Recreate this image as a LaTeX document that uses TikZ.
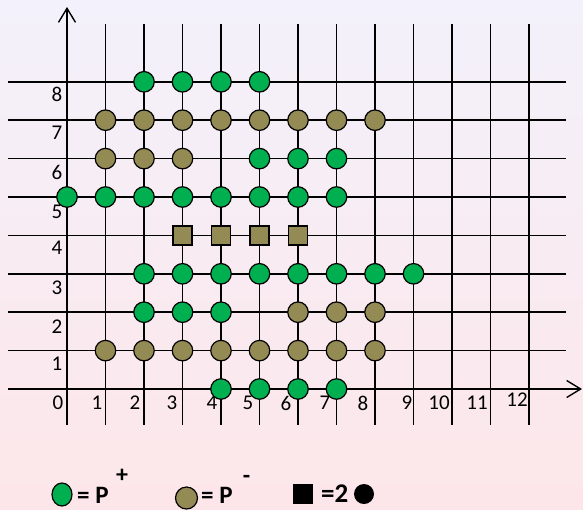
\documentclass[tikz,border=0pt]{standalone}
\usepackage{fontspec}
\setmainfont{Carlito}
\usetikzlibrary{arrows.meta,shapes.geometric}
\definecolor{pplus}{HTML}{00B050}
\definecolor{pminus}{HTML}{948A54}
\definecolor{bgtop}{HTML}{F3F1FB}
\definecolor{bgbot}{HTML}{FDE6E9}
\begin{document}
\begin{tikzpicture}[x=1pt,y=-1pt,
  gridline/.style={line width=1.6pt,black},
  axisarrow/.style={gridline,-{Straight Barb[length=14pt,width=17pt,line width=1.4pt]}},
  pplusdot/.style={circle,draw=black,line width=1.2pt,fill=pplus,minimum size=20.5pt,inner sep=0pt},
  pminusdot/.style={pplusdot,fill=pminus},
  pairbox/.style={rectangle,draw=black,line width=1.2pt,fill=pminus,minimum size=19pt,inner sep=0pt},
  numlabel/.style={font=\fontsize{21}{21}\selectfont,inner sep=0pt},
  legtext/.style={font=\bfseries\fontsize{25}{25}\selectfont,inner sep=0pt,anchor=base west},
  legsup/.style={font=\bfseries\fontsize{24}{24}\selectfont,inner sep=0pt},
]
\shade[top color=bgtop,bottom color=bgbot] (0,0) rectangle (583,509);
\useasboundingbox (0,0) rectangle (583,509);
% grid
\foreach \i in {1,...,12}
  \draw[gridline] ({67+38.5*\i},24) -- ({67+38.5*\i},425);
\foreach \j in {1,...,8}
  \draw[gridline] (8,{389-38.4*\j}) -- (566,{389-38.4*\j});
\coordinate (ybot) at (67,425);
\coordinate (ytop) at (67,7);
\coordinate (xleft) at (8,389);
\coordinate (xright) at (582,389);
\draw[axisarrow] (ybot) -- (ytop);
\draw[axisarrow] (xleft) -- (xright);
% x labels
\foreach \n/\xx in {0/58,1/97,2/135,3/172,4/212,5/248,6/286,7/325,8/363,9/407,10/439,11/477}
  \node[numlabel] (lx\n) at (\xx,403) {\n};
\node[numlabel] (lx12) at (517,400) {12};
% y labels
\foreach \n/\yy in {1/364,2/327,3/288,4/248,5/212,6/172,7/133,8/94}
  \node[numlabel,anchor=east] (ly\n) at (62.5,\yy) {\n};
% positive dots
\foreach \a/\b in {2/8,3/8,4/8,5/8,
                   5/6,6/6,7/6,
                   0/5,1/5,2/5,3/5,4/5,5/5,6/5,7/5,
                   2/3,3/3,4/3,5/3,6/3,7/3,8/3,9/3,
                   2/2,3/2,4/2,
                   4/0,5/0,6/0,7/0}
  \node[pplusdot] (g\a-\b) at ({67+38.5*\a},{389-38.4*\b}) {};
% negative dots
\foreach \a/\b in {1/7,2/7,3/7,4/7,5/7,6/7,7/7,8/7,
                   1/6,2/6,3/6,
                   6/2,7/2,8/2,
                   1/1,2/1,3/1,4/1,5/1,6/1,7/1,8/1}
  \node[pminusdot] (m\a-\b) at ({67+38.5*\a},{389-38.4*\b}) {};
% pair boxes
\foreach \a in {3,4,5,6}
  \node[pairbox] (s\a) at ({67+38.5*\a},{389-38.4*4}) {};
% legend
\node[pplusdot,ellipse,minimum width=20pt,minimum height=23pt] (legplus) at (62,494.5) {};
\node[legtext] (legplustext) at (77,503) {= P};
\node[legsup] (legplussup) at (122,476) {+};
\node[pminusdot,minimum size=22pt] (legminus) at (186.5,498) {};
\node[legtext] (legminustext) at (201,503) {= P};
\node[legsup] (legminussup) at (246.5,479.5) {-};
\node[rectangle,fill=black,minimum size=20pt,inner sep=0pt] (legbox) at (302.5,494) {};
\node[legtext,font=\bfseries\fontsize{27}{27}\selectfont] (legtwo) at (321,502.5) {=2};
\node[circle,fill=black,minimum size=20pt,inner sep=0pt] (legdot) at (364,494) {};
\end{tikzpicture}
\end{document}
